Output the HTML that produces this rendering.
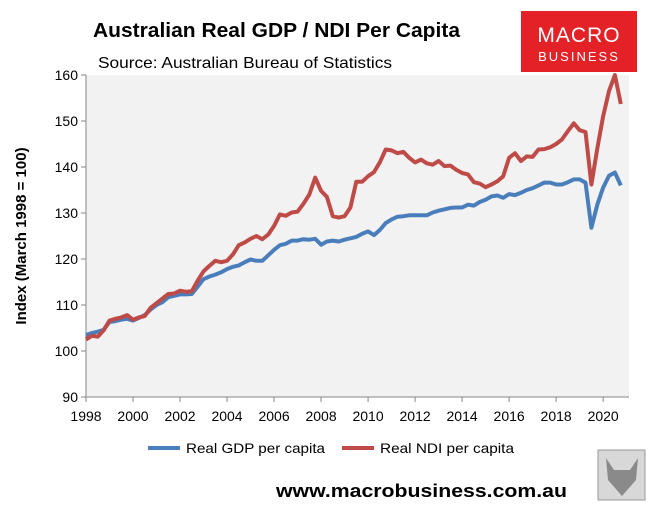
<!DOCTYPE html>
<html><head><meta charset="utf-8"><style>
body{margin:0;width:652px;height:514px;background:#fff;overflow:hidden;font-family:"Liberation Sans",sans-serif;}
svg text{font-family:"Liberation Sans",sans-serif;}
</style></head><body>
<svg id="chart" width="652" height="514" xmlns="http://www.w3.org/2000/svg">
<text x="93" y="37" font-size="20" font-weight="bold" fill="#000" textLength="367" lengthAdjust="spacingAndGlyphs">Australian Real GDP / NDI Per Capita</text>
<text x="98" y="68" font-size="16" fill="#000" textLength="294" lengthAdjust="spacingAndGlyphs">Source: Australian Bureau of Statistics</text>
<g>
<rect x="521" y="11" width="116" height="61" fill="#e42126"/>
<text x="579" y="42" font-size="21" fill="#fff" text-anchor="middle" letter-spacing="1">MACRO</text>
<text x="579" y="61" font-size="13" fill="#fff" text-anchor="middle" letter-spacing="2">BUSINESS</text>
</g>
<rect x="86" y="75" width="543" height="322" fill="#f2f2f2"/>
<g id="axes"></g>
<g id="series"></g>
<text transform="translate(26,236) rotate(-90)" font-size="15" font-weight="bold" text-anchor="middle">Index (March 1998 = 100)</text>
<g>
<g><line x1="148" y1="448" x2="180" y2="448" stroke="#4a7ebb" stroke-width="4"/><text x="186" y="453" font-size="14" textLength="139" lengthAdjust="spacingAndGlyphs">Real GDP per capita</text></g>
<g><line x1="342" y1="448" x2="374" y2="448" stroke="#be4b48" stroke-width="4"/><text x="380" y="453" font-size="14" textLength="134" lengthAdjust="spacingAndGlyphs">Real NDI per capita</text></g>
</g>
<text x="276" y="497" font-size="18" font-weight="bold" textLength="291" lengthAdjust="spacingAndGlyphs">www.macrobusiness.com.au</text>
<g>
<rect x="598" y="450" width="47" height="50" fill="#d8d8d8" stroke="#999"/>
<path d="M606 458 L614 470 L630 470 L638 458 L636 480 L622 496 L608 480 Z" fill="#8a8a8a"/>
</g>
</svg>
<script>
const years=["1998","2000","2002","2004","2006","2008","2010","2012","2014","2016","2018","2020"];
const yTicks=[90,100,110,120,130,140,150,160];
const startYear=1998;
const gdp=[103.5,103.9,104.2,104.6,106.3,106.5,106.8,107,106.6,107.2,107.8,109,110,110.6,111.7,112,112.3,112.3,112.4,114,115.6,116.2,116.6,117.1,117.8,118.3,118.6,119.3,119.9,119.6,119.6,120.8,122,123,123.3,124,124,124.3,124.2,124.4,123.1,123.8,124,123.8,124.2,124.5,124.8,125.5,126,125.2,126.3,127.8,128.6,129.2,129.3,129.5,129.5,129.5,129.5,130.1,130.5,130.8,131.1,131.2,131.2,131.8,131.6,132.4,132.9,133.6,133.8,133.3,134.1,133.9,134.4,135,135.4,136,136.6,136.6,136.2,136.2,136.7,137.3,137.3,136.6,126.8,131.8,135.5,138.1,138.8,136];
const ndi=[102.5,103.3,103.1,104.5,106.6,107,107.3,107.8,106.8,107.3,107.6,109.4,110.4,111.4,112.4,112.5,113.1,112.9,113,115.3,117.3,118.5,119.6,119.3,119.6,121,123,123.6,124.4,125,124.3,125.3,127.2,129.7,129.4,130.1,130.3,132,134,137.7,134.8,133.5,129.3,129,129.3,131.2,136.8,136.8,138,138.9,141,143.8,143.6,143,143.3,142,141,141.6,140.8,140.5,141.3,140.2,140.3,139.4,138.7,138.4,136.7,136.4,135.6,136.2,136.9,138,142,143,141.3,142.3,142.2,143.8,143.9,144.3,145,146,147.8,149.5,148,147.6,136.2,144,151,156.5,160,153.7];
const NS="http://www.w3.org/2000/svg";
const X0=86,X1=629,Y0=397,Y1=75;
function xs(t){return X0+(t-1998)*(X1-X0)/23.1;}
function ys(v){return Y0-(v-90)*(Y0-Y1)/70;}
function mk(tag,attrs,parent){const e=document.createElementNS(NS,tag);for(const k in attrs)e.setAttribute(k,attrs[k]);parent.appendChild(e);return e;}
const ax=document.getElementById('axes');
const yl=mk('line',{x1:X0,y1:Y1,x2:X0,y2:Y0,stroke:'#868686','stroke-width':1},ax);


const xl=mk('line',{x1:X0,y1:Y0,x2:X1,y2:Y0,stroke:'#868686','stroke-width':1},ax);


yTicks.forEach(v=>{
  mk('line',{x1:X0-5,y1:ys(v),x2:X0,y2:ys(v),stroke:'#868686'},ax);
  const t=mk('text',{x:X0-8,y:ys(v)+5,'font-size':14,'text-anchor':'end'},ax);
  t.textContent=v;
  
  
});
years.forEach(y=>{
  const x=xs(+y);
  mk('line',{x1:x,y1:Y0,x2:x,y2:Y0+5,stroke:'#868686'},ax);
  const t=mk('text',{x:x,y:Y0+24,'font-size':14,'text-anchor':'middle'},ax);
  t.textContent=y;
  
  
});
const sg=document.getElementById('series');
function line(data,color,name){
  const d=data.map((v,i)=>(i?'L':'M')+xs(startYear+i/4).toFixed(1)+' '+ys(v).toFixed(1)).join(' ');
  const p=mk('path',{d:d,fill:'none',stroke:color,'stroke-width':4,'stroke-linejoin':'round'},sg);
  
  
}
line(gdp,'#4a7ebb','gdp-line');
line(ndi,'#be4b48','ndi-line');
</script>
</body></html>
